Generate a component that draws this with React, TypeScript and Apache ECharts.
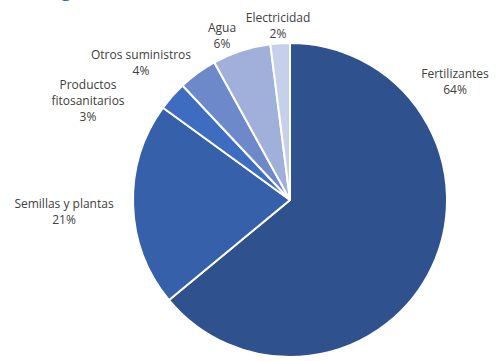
import React, { useEffect, useRef } from "react";
import * as echarts from "echarts";

const categories = ["Fertilizantes", "Semillas y plantas", "Productos\nfitosanitarios", "Otros suministros", "Agua", "Electricidad"];
const values = [64, 21, 3, 4, 6, 2];
const colors = ["#2F528F", "#3660AA", "#3E6CC0", "#6E89CA", "#A0B0DB", "#C6D0EA"];
const labelCenters: [number, number][] = [
  [455, 81],
  [64, 211],
  [88, 100],
  [141, 62],
  [222, 35],
  [278, 25],
];

export default function App() {
  const ref = useRef<HTMLDivElement>(null);
  useEffect(() => {
    document.body.style.margin = "0";
    const chart = echarts.init(ref.current!, null, { renderer: "svg" });
    chart.setOption({
      animation: false,
      backgroundColor: "#ffffff",
      graphic: [
        {
          type: "text",
          left: 61,
          top: -19,
          style: { text: "g", fill: "#1F6FC6", font: "bold 18px 'Open Sans'" },
        },
      ],
      series: [
        {
          type: "pie",
          center: [290, 200],
          radius: 157,
          startAngle: 90,
          clockwise: true,
          data: categories.map((c, i) => ({ name: c, value: values[i], itemStyle: { color: colors[i] } })),
          itemStyle: { borderColor: "#ffffff", borderWidth: 2 },
          label: {
            show: true,
            position: "outside",
            formatter: "{b}\n{c}%",
            color: "#404040",
            fontSize: 12,
            fontFamily: "'Open Sans', sans-serif",
            lineHeight: 16,
            align: "center",
            overflow: "none",
          },
          labelLine: { show: false },
          labelLayout: (p: any) => {
            const c = labelCenters[p.dataIndex];
            return { x: c[0], y: c[1], align: "center", verticalAlign: "middle", hideOverlap: false };
          },
          emphasis: { disabled: true },
        },
      ],
    });
    return () => chart.dispose();
  }, []);
  return <div ref={ref} style={{ width: 497, height: 361 }} />;
}
